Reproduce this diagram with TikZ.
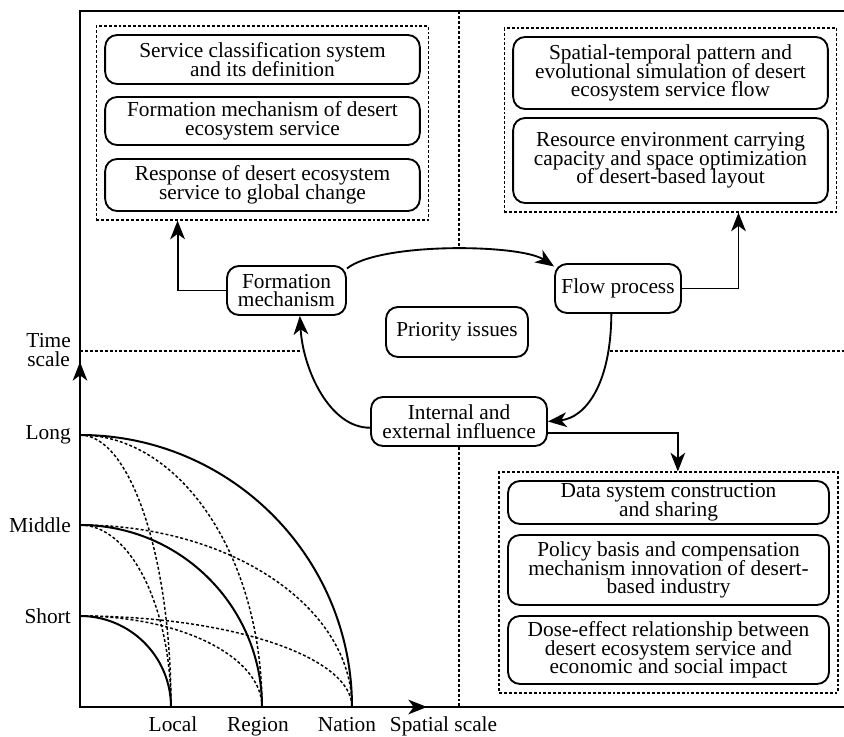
\documentclass[tikz,border=0pt]{standalone}
\usepackage{fontspec}
\setmainfont{Liberation Serif}
\usetikzlibrary{arrows.meta,fit}

\newcommand{\figfont}{\fontsize{16}{14}\selectfont\lineskiplimit=-20pt\relax}

\tikzset{
	item/.style={draw, line width=1.4pt, rounded corners=9pt, align=center, inner sep=1pt, font=\figfont},
	group/.style={draw, line width=1pt, dash pattern=on 2.2pt off 1.5pt, inner xsep=6pt, inner ysep=6pt},
	sepline/.style={line width=1pt, dash pattern=on 2.2pt off 1.5pt},
	link/.style={line width=1.4pt, -{Stealth[length=14pt,width=11pt,inset=4pt]}},
	dot/.style={line width=1.1pt, dash pattern=on 2.2pt off 1.6pt},
	full/.style={line width=1.5pt},
	tick/.style={inner sep=0pt, font=\figfont}
}

\begin{document}
\begin{tikzpicture}[x=0.75pt, y=-0.75pt]
				\useasboundingbox (0,0) rectangle (844,737);
				
				% frame
				\coordinate (O) at (80,707);
				\draw[line width=2pt] (844,11) -- (80,11) -- (O) -- (844,707);
				
				% top left group
				\node[item, minimum width=236pt, minimum height=36.75pt] (b1) at (262.5,59.5)
					{Service classification system\\and its definition};
				\node[item, minimum width=236pt, minimum height=36pt] (b2) at (262.5,121)
					{Formation mechanism of desert\\ecosystem service};
				\node[item, minimum width=236pt, minimum height=39pt] (b3) at (262.5,185)
					{Response of desert ecosystem\\service to global change};
				\node[group, fit=(b1)(b3)] (gtl) {};
				
				% top right group
				\node[item, minimum width=236pt, minimum height=54pt] (c1) at (670.5,73)
					{Spatial-temporal pattern and\\evolutional simulation of desert\\ecosystem service flow};
				\node[item, minimum width=236pt, minimum height=63.75pt] (c2) at (670.5,160.5)
					{Resource environment carrying\\capacity and space optimization\\of desert-based layout};
				\node[group, fit=(c1)(c2)] (gtr) {};
				
				% bottom right group
				\node[item, minimum width=240.75pt, minimum height=32.25pt] (d1) at (668.5,502.5)
					{Data system construction\\and sharing};
				\node[item, minimum width=240.75pt, minimum height=52.5pt] (d2) at (668.5,570)
					{Policy basis and compensation\\mechanism innovation of desert-\\based industry};
				\node[item, minimum width=240.75pt, minimum height=51pt] (d3) at (668.5,650)
					{Dose-effect relationship between\\desert ecosystem service and\\economic and social impact};
				\node[group, fit=(d1)(d3)] (gbr) {};
				
				% cycle
				\node[item, minimum width=89.25pt, minimum height=36.75pt] (form) at (286.5,290.5) {Formation\\mechanism};
				\node[item, minimum width=94.5pt, minimum height=36.75pt] (flow) at (618,288.5) {Flow process};
				\node[item, minimum width=106.5pt, minimum height=37.5pt] (prio) at (457,332) {Priority issues};
				\node[item, minimum width=132pt, minimum height=36.75pt] (intl) at (459,421.5) {Internal and\\external influence};
				
				\draw[link] (form.20) .. controls (380,242) and (520,244) .. (flow.161);
				\draw[link] ([xshift=-5pt]flow.south) .. controls (611,385) and (585,418) .. (intl.east);
				\draw[link] (intl.184) .. controls (330,428) and (303,370) .. ([xshift=10pt]form.south);
				
				\draw[link] (form.west) -| ([xshift=61.5pt]gtl.south west);
				\draw[link] (flow.east) -| ([xshift=51pt]gtr.south);
				\draw[link] ([yshift=-8.5pt]intl.east) -| ([xshift=7pt]gbr.north);
				
				% separators
				\draw[sepline] (459,11) -- (459,249);
				\draw[sepline] (intl.south) -- (intl.south |- O);
				\draw[sepline] (80,351) -- (302,351);
				\draw[sepline] (610,351) -- (844,351);
				
				% scale axes
				\draw[link, line width=1.5pt] (O) -- (80,362);
				\draw[link, line width=1.5pt] (O) -- (427,707);
				
				\foreach \a/\b/\s in
				{91/91/full, 182/182/full, 272/272/full,
				 91/272/dot, 182/272/dot, 91/182/dot, 272/182/dot, 182/91/dot, 272/91/dot}{
					\draw[\s] (80,{707-\b}) .. controls ({80+0.5523*\a},{707-\b}) and ({80+\a},{707-0.5523*\b}) .. ({80+\a},707);
				}
				
				% time labels
				\node[tick, anchor=east, align=center] (T) at (71,350) {Time\\scale};
				\node[tick, anchor=east] (L) at (71,435) {Long};
				\node[tick, anchor=east] (M) at (71,525) {Middle};
				\node[tick, anchor=east] (S) at (71,616) {Short};
				
				% space labels
				\node[tick, anchor=base] (lo) at (173,732) {Local};
				\node[tick, anchor=base] (re) at (258,732) {Region};
				\node[tick, anchor=base] (na) at (347,732) {Nation};
				\node[tick, anchor=base] (sp) at (443.5,732) {Spatial scale};
\end{tikzpicture}
\end{document}
